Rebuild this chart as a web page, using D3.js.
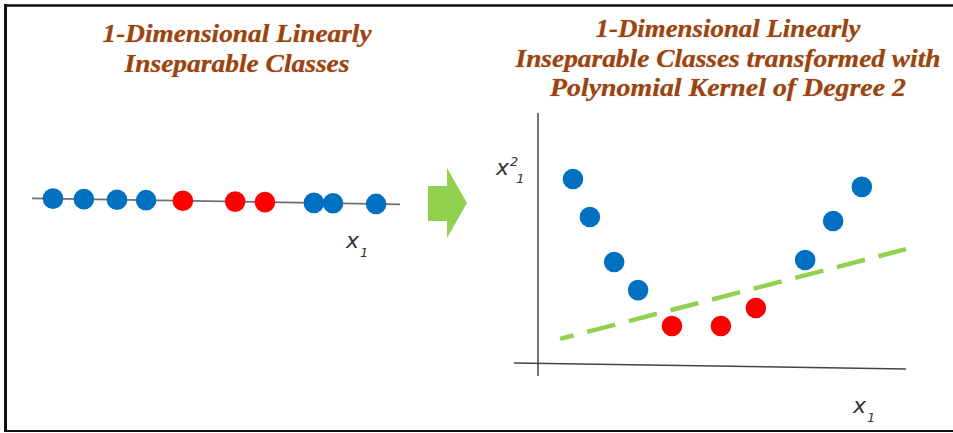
<!DOCTYPE html>
<html>
<head>
<meta charset="utf-8">
<script src="https://cdn.jsdelivr.net/npm/d3@7"></script>
<style>
  html, body { margin: 0; padding: 0; background: #ffffff; }
  svg { display: block; }
  .title { font-family: "Liberation Serif", serif; font-style: italic; font-weight: bold; }
  .lbl { font-family: "DejaVu Sans", sans-serif; font-style: italic; }
</style>
</head>
<body>
<svg id="chart" width="953" height="433"></svg>
<script>
// ---------- data ----------
// Left panel: 1-D positions along x1 (arbitrary units 0..100)
const leftX1 = [5.7, 14.1, 23.1, 31.0, 41.0, 55.2, 63.3, 76.6, 81.8, 93.5];
const leftClass = ["blue", "blue", "blue", "blue", "red", "red", "red", "blue", "blue", "blue"];

// Right panel: transformed points (x1, x1^2) in arbitrary units
const rightX1 = [9.5, 14.1, 20.7, 27.2, 36.4, 49.7, 59.2, 72.6, 80.2, 88.0];
const rightX1sq = [73.9, 58.9, 41.1, 30.0, 15.8, 15.8, 22.9, 41.9, 57.3, 70.8];
const rightClass = ["blue", "blue", "blue", "blue", "red", "red", "red", "blue", "blue", "blue"];

// Separating line (two end points in data units)
const boundaryX = [6.0, 100];
const boundaryY = [10.7, 46.2];

// Axis end points in data units
const xAxisX = [-6.5, 100];
const xAxisY = [1.2, -1.2];
const yAxisX = [0, 0];
const yAxisY = [-4, 100];

const leftTitle = ["1-Dimensional Linearly", "Inseparable Classes"];
const rightTitle = ["1-Dimensional Linearly", "Inseparable Classes transformed with", "Polynomial Kernel of Degree 2"];

const colors = { blue: "#0070C0", red: "#FF0000" };

// ---------- drawing ----------
const svg = d3.select("#chart");

// frame
svg.append("line").attr("x1", 5.5).attr("x2", 953).attr("y1", 5.5).attr("y2", 5.5)
  .attr("stroke", "#111").attr("stroke-width", 2.5);
svg.append("line").attr("x1", 5.5).attr("x2", 5.5).attr("y1", 4).attr("y2", 432)
  .attr("stroke", "#111").attr("stroke-width", 3);
svg.append("line").attr("x1", 4).attr("x2", 953).attr("y1", 431).attr("y2", 431)
  .attr("stroke", "#111").attr("stroke-width", 2);

// titles
function drawTitle(lines, cx, baselines, widths) {
  lines.forEach((t, i) => {
    svg.append("text")
      .attr("class", "title")
      .attr("x", cx).attr("y", baselines[i])
      .attr("text-anchor", "middle")
      .style("font-size", "25px")
      .attr("fill", "#9C4410")
      .attr("textLength", widths[i])
      .attr("lengthAdjust", "spacingAndGlyphs")
      .style("text-shadow", "0px 0px 1px rgba(120,50,10,0.5)")
      .text(t);
  });
}
drawTitle(leftTitle, 237, [42, 72], [269, 225]);
drawTitle(rightTitle, 728, [37, 67, 96], [265, 425, 356]);

// ---- left panel ----
const lx = d3.scaleLinear().domain([0, 100]).range([32, 400]);
const ly = d3.scaleLinear().domain([0, 100]).range([198.3, 204.3]); // slight tilt of the drawn line

svg.append("line")
  .attr("x1", lx(0)).attr("y1", ly(0))
  .attr("x2", lx(100)).attr("y2", ly(100))
  .attr("stroke", "#6f6f6f").attr("stroke-width", 1.8);

svg.append("g").selectAll("circle")
  .data(leftX1.map((v, i) => ({ v, c: leftClass[i] })))
  .join("circle")
  .attr("cx", d => lx(d.v))
  .attr("cy", d => ly(d.v))
  .attr("r", 10.3)
  .attr("fill", d => colors[d.c]);

function xLabel(x, y, sup) {
  const t = svg.append("text")
    .attr("class", "lbl")
    .attr("x", x).attr("y", y)
    .style("font-size", "22px")
    .attr("fill", "#333");
  t.append("tspan").text("x");
  if (sup) {
    t.append("tspan").attr("dy", -9).attr("dx", 1).style("font-size", "13px").text("2");
    t.append("tspan").attr("dy", 17).attr("dx", -2).style("font-size", "13px").text("1");
  } else {
    t.append("tspan").attr("dy", 9).attr("dx", 1).style("font-size", "13px").text("1");
  }
}
xLabel(346, 248, false);

// arrow
const arrowCx = 447, arrowCy = 203;
const arrowPts = [[-19, -17], [0, -17], [0, -35], [20, 0], [0, 35], [0, 18], [-19, 18]];
svg.append("polygon")
  .attr("points", arrowPts.map(p => [arrowCx + p[0], arrowCy + p[1]].join(",")).join(" "))
  .attr("fill", "#92D050");

// ---- right panel ----
const rx = d3.scaleLinear().domain([0, 100]).range([538, 906]);
const ry = d3.scaleLinear().domain([0, 100]).range([366, 113]);

svg.append("line")
  .attr("x1", rx(yAxisX[0])).attr("y1", ry(yAxisY[0]))
  .attr("x2", rx(yAxisX[1])).attr("y2", ry(yAxisY[1]))
  .attr("stroke", "#444").attr("stroke-width", 1.5);
svg.append("line")
  .attr("x1", rx(xAxisX[0])).attr("y1", ry(xAxisY[0]))
  .attr("x2", rx(xAxisX[1])).attr("y2", ry(xAxisY[1]))
  .attr("stroke", "#444").attr("stroke-width", 1.5);

svg.append("line")
  .attr("x1", rx(boundaryX[0])).attr("y1", ry(boundaryY[0]))
  .attr("x2", rx(boundaryX[1])).attr("y2", ry(boundaryY[1]))
  .attr("stroke", "#92D050").attr("stroke-width", 4.5)
  .attr("stroke-dasharray", "29,14")
  .attr("stroke-dashoffset", 15);

svg.append("g").selectAll("circle")
  .data(rightX1.map((v, i) => ({ x: v, y: rightX1sq[i], c: rightClass[i] })))
  .join("circle")
  .attr("cx", d => rx(d.x))
  .attr("cy", d => ry(d.y))
  .attr("r", 10.3)
  .attr("fill", d => colors[d.c]);

xLabel(496, 175, true);
xLabel(853, 413, false);
</script>
</body>
</html>
